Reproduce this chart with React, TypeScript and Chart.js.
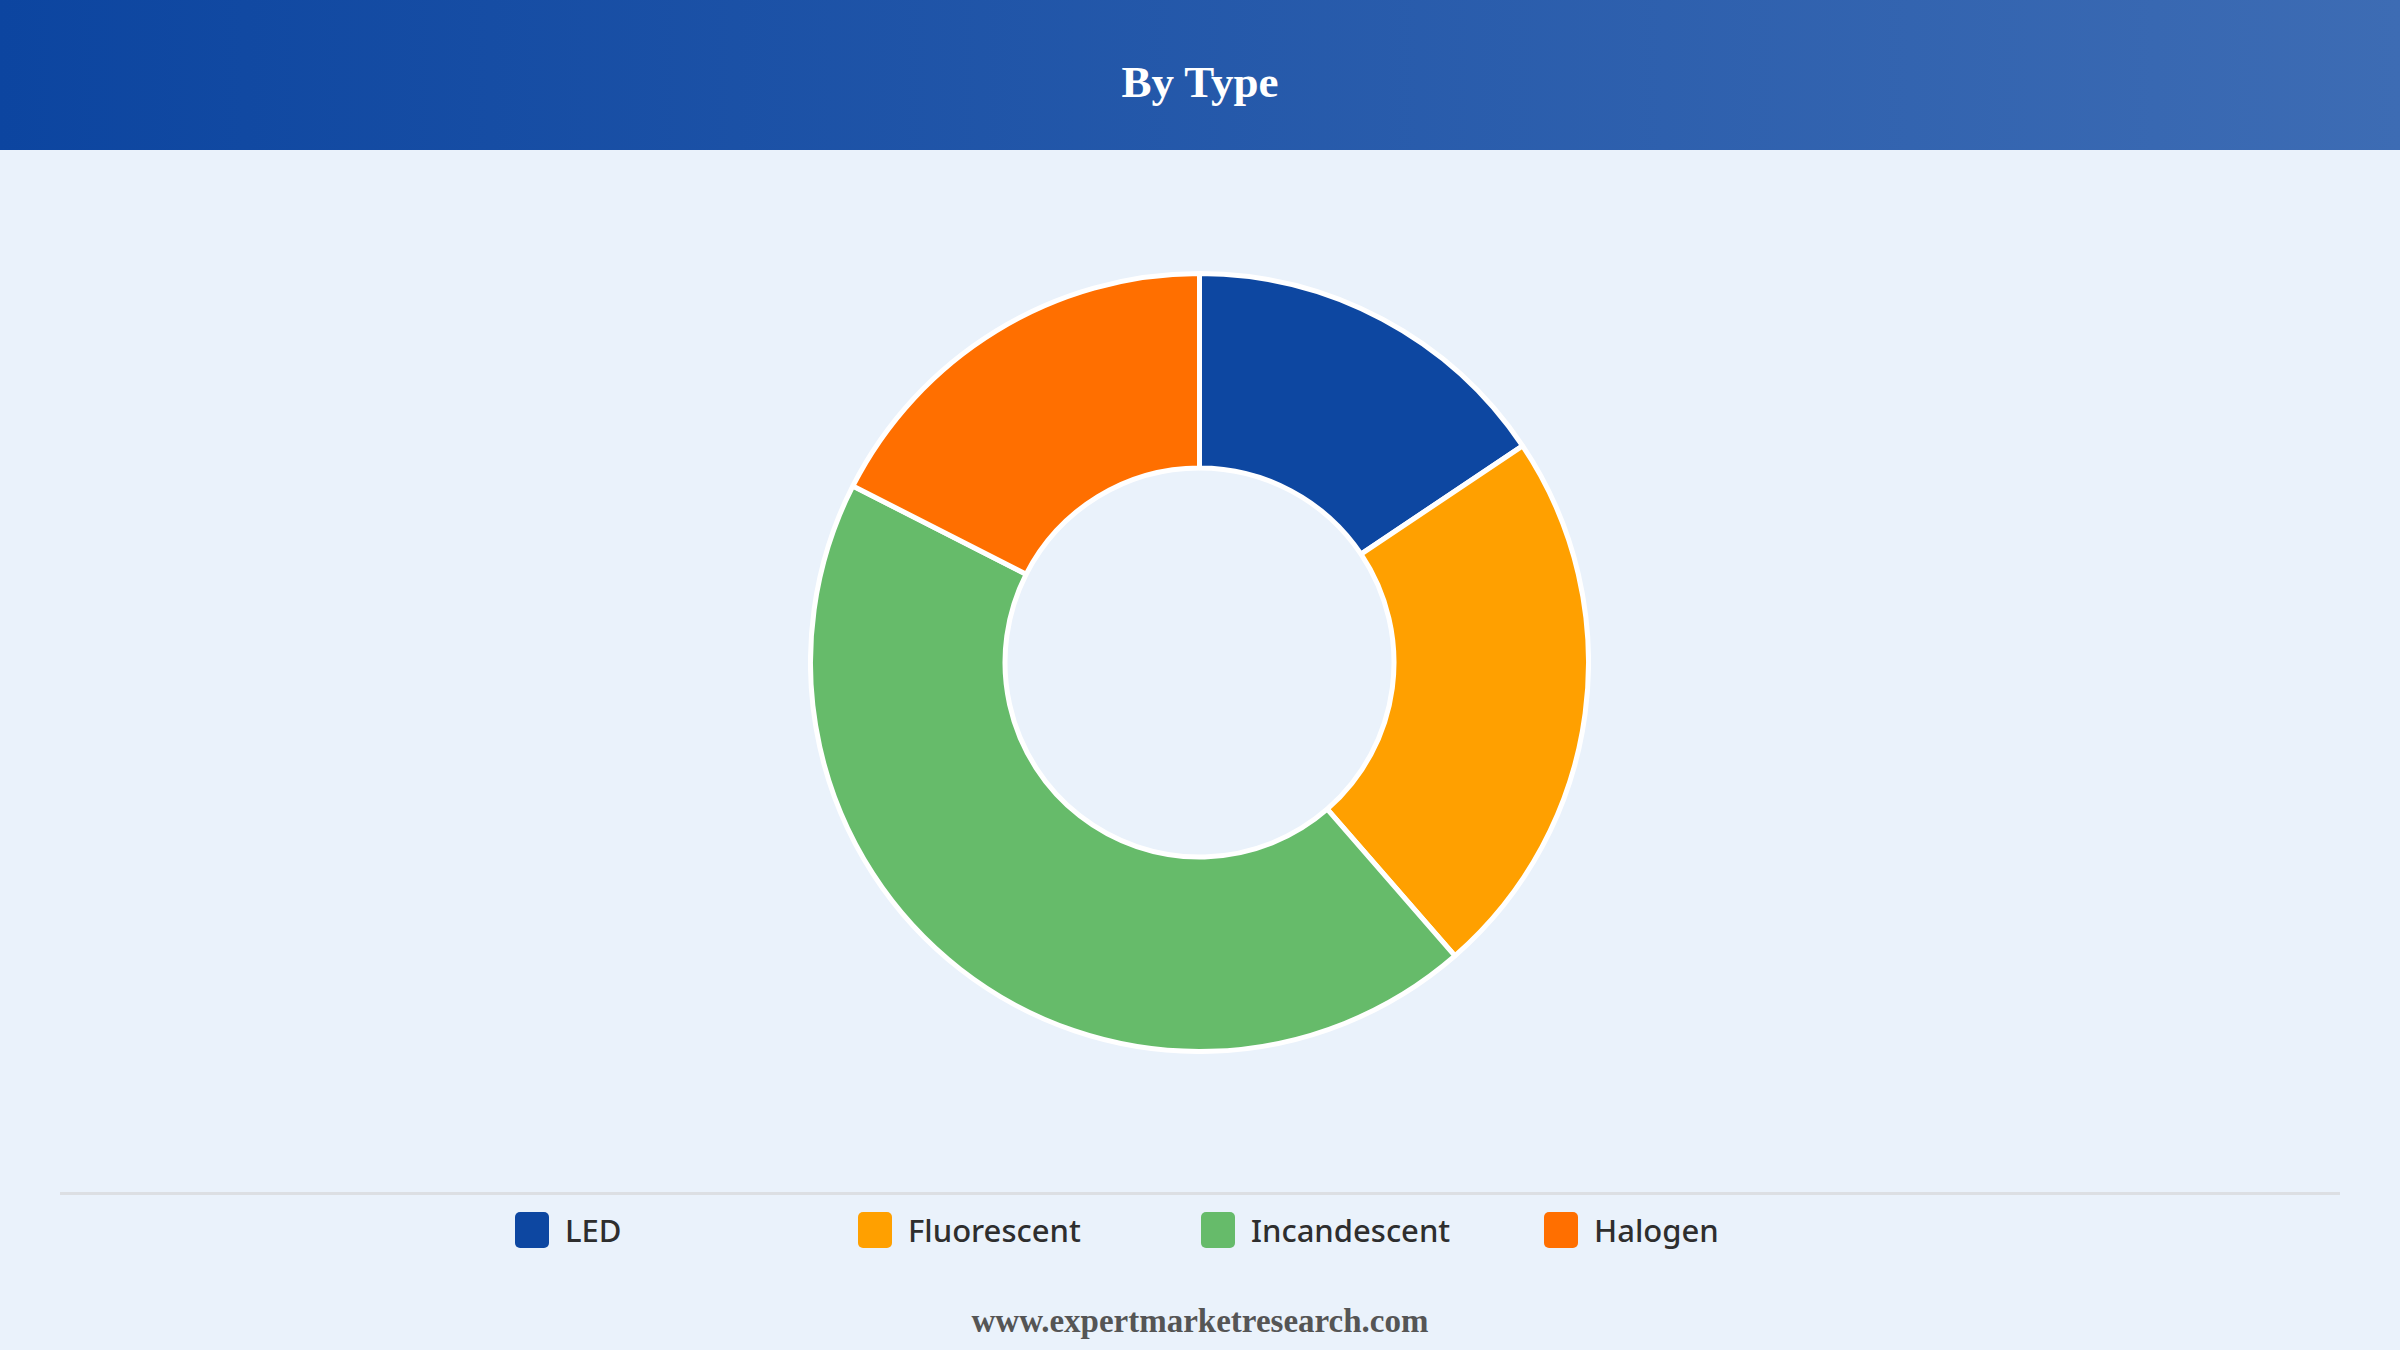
import React, { useEffect, useRef } from "react";
import { Chart, registerables } from "chart.js";

Chart.register(...registerables);

const categories = ["LED", "Fluorescent", "Incandescent", "Halogen"];
const shareValues = [15.6, 23.0, 43.9, 17.5];
const sliceColors = ["#0D47A1", "#FFA000", "#66BB6A", "#FF6F00"];
const titleText = "By Type";
const footerText = "www.expertmarketresearch.com";

export default function App() {
  const canvasRef = useRef<HTMLCanvasElement | null>(null);

  useEffect(() => {
    if (!canvasRef.current) return;
    const chart = new Chart(canvasRef.current, {
      type: "doughnut",
      data: {
        labels: categories,
        datasets: [
          {
            data: shareValues,
            backgroundColor: sliceColors,
            borderColor: "#ffffff",
            borderWidth: 5,
            hoverOffset: 0,
          },
        ],
      },
      options: {
        responsive: false,
        maintainAspectRatio: false,
        animation: false,
        cutout: "50%",
        layout: { padding: 0 },
        plugins: {
          legend: { display: false },
          tooltip: { enabled: false },
        },
      },
    });
    return () => chart.destroy();
  }, []);

  return (
    <div
      style={{
        position: "absolute",
        left: 0,
        top: 0,
        width: 2400,
        height: 1350,
        background: "#EAF2FB",
        overflow: "hidden",
      }}
    >
      <div
        style={{
          position: "absolute",
          left: 0,
          top: 0,
          width: 2400,
          height: 150,
          background: "linear-gradient(to right, #0C45A0, #3D6CB4)",
        }}
      >
        <div
          style={{
            position: "absolute",
            left: 0,
            width: 2400,
            top: 52,
            textAlign: "center",
            color: "#ffffff",
            fontFamily: "'Liberation Serif', 'Times New Roman', serif",
            fontWeight: "bold",
            fontSize: 45,
            lineHeight: "60px",
          }}
        >
          {titleText}
        </div>
      </div>

      <canvas
        ref={canvasRef}
        width={783}
        height={783}
        style={{ position: "absolute", left: 808, top: 271, width: 783, height: 783 }}
      />

      <div
        style={{
          position: "absolute",
          left: 60,
          top: 1192,
          width: 2280,
          height: 3,
          background: "#DCDFE3",
        }}
      />

      <div
        style={{
          position: "absolute",
          left: 515,
          top: 1206,
          height: 48,
          display: "flex",
          alignItems: "center",
        }}
      >
        {categories.map((c, i) => (
          <div
            key={c}
            style={{ width: 343, display: "flex", alignItems: "center" }}
          >
            <div
              style={{
                width: 34,
                height: 36,
                borderRadius: 5,
                background: sliceColors[i],
                marginRight: 16,
              }}
            />
            <span
              style={{
                fontFamily: "'Noto Sans', 'Open Sans', sans-serif",
                fontSize: 31,
                fontWeight: 500,
                color: "#2E2E2E",
                lineHeight: "48px",
              }}
            >
              {c}
            </span>
          </div>
        ))}
      </div>

      <div
        style={{
          position: "absolute",
          left: 0,
          width: 2400,
          top: 1301,
          textAlign: "center",
          color: "#555555",
          fontFamily: "'Liberation Serif', 'Times New Roman', serif",
          fontWeight: "bold",
          fontSize: 33,
          lineHeight: "40px",
        }}
      >
        {footerText}
      </div>
    </div>
  );
}
